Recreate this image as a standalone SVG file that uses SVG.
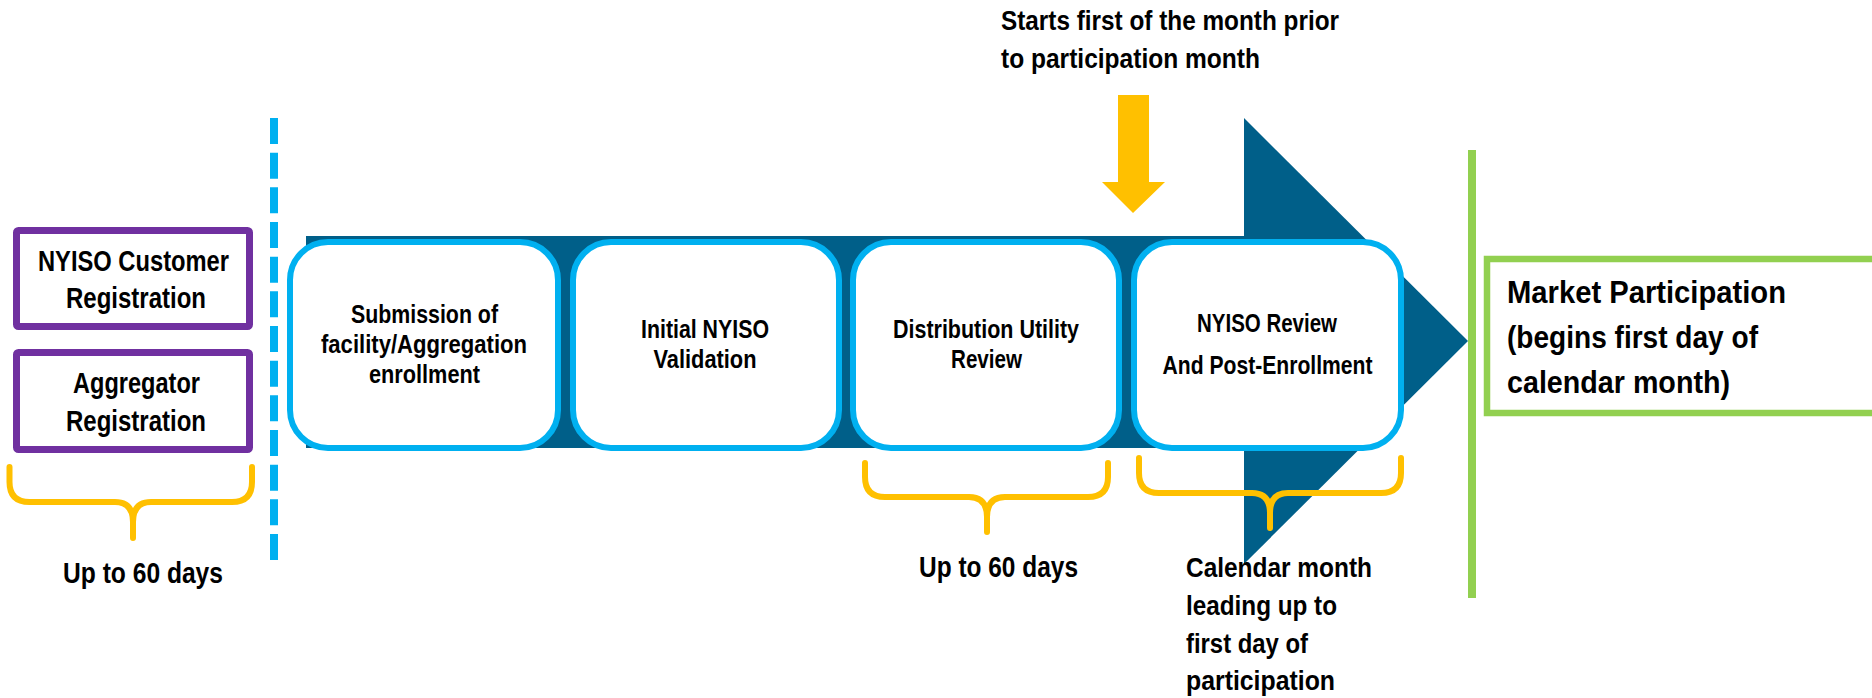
<svg xmlns="http://www.w3.org/2000/svg" width="1872" height="698" viewBox="0 0 1872 698">
<style>
  text { font-family: "Liberation Sans", Arial, sans-serif; font-weight: bold; fill: #000; }
  .t30 { font-size: 29px; }
  .t25 { font-size: 25px; }
  .t28 { font-size: 28px; }
  .t32 { font-size: 32px; }
  .purple { fill: #fff; stroke: #7030A0; stroke-width: 7; }
  .step { fill: #fff; stroke: #00B0F0; stroke-width: 6; }
  .brace { fill: none; stroke: #FFC000; stroke-width: 6; stroke-linecap: round; stroke-linejoin: round; }
  .green { fill: #fff; stroke: #92D050; stroke-width: 6.5; }
</style>
<rect x="0" y="0" width="1872" height="698" fill="#fff"/>

<g id="timeline-arrow">
  <rect x="306" y="236" width="940" height="212" fill="#005F89"/>
  <polygon points="1244,118 1468,341 1244,564" fill="#005F89"/>
</g>

<g id="divider">
  <line x1="274" y1="118" x2="274" y2="560" stroke="#00B0F0" stroke-width="8" stroke-dasharray="26 8.67"/>
</g>

<g id="customer-registration">
  <rect class="purple" x="16.5" y="230.5" width="233" height="96" rx="2"/>
  <text class="t30" x="38" y="271" textLength="191" lengthAdjust="spacingAndGlyphs">NYISO Customer</text>
  <text class="t30" x="66" y="308" textLength="140" lengthAdjust="spacingAndGlyphs">Registration</text>
</g>

<g id="aggregator-registration">
  <rect class="purple" x="16.5" y="352.5" width="233" height="97" rx="2"/>
  <text class="t30" x="73" y="393" textLength="127" lengthAdjust="spacingAndGlyphs">Aggregator</text>
  <text class="t30" x="66" y="431" textLength="140" lengthAdjust="spacingAndGlyphs">Registration</text>
</g>

<g id="label-left-60">
  <text class="t30" x="63" y="583" textLength="160" lengthAdjust="spacingAndGlyphs">Up to 60 days</text>
</g>

<g id="step-submission">
  <rect class="step" x="290" y="242" width="268" height="206" rx="38"/>
  <text class="t25" x="351" y="323" textLength="147" lengthAdjust="spacingAndGlyphs">Submission of</text>
  <text class="t25" x="321" y="353" textLength="206" lengthAdjust="spacingAndGlyphs">facility/Aggregation</text>
  <text class="t25" x="369" y="383" textLength="111" lengthAdjust="spacingAndGlyphs">enrollment</text>
</g>

<g id="step-initial-validation">
  <rect class="step" x="573" y="242" width="266" height="206" rx="38"/>
  <text class="t25" x="641" y="338" textLength="128" lengthAdjust="spacingAndGlyphs">Initial NYISO</text>
  <text class="t25" x="653.5" y="368" textLength="103" lengthAdjust="spacingAndGlyphs">Validation</text>
</g>

<g id="step-utility-review">
  <rect class="step" x="853" y="242" width="266" height="206" rx="38"/>
  <text class="t25" x="893" y="338" textLength="186" lengthAdjust="spacingAndGlyphs">Distribution Utility</text>
  <text class="t25" x="951" y="368" textLength="71" lengthAdjust="spacingAndGlyphs">Review</text>
</g>

<g id="step-nyiso-review">
  <rect class="step" x="1134" y="242" width="267" height="206" rx="38"/>
  <text class="t25" x="1197" y="332" textLength="140" lengthAdjust="spacingAndGlyphs">NYISO Review</text>
  <text class="t25" x="1162.5" y="374" textLength="210" lengthAdjust="spacingAndGlyphs">And Post-Enrollment</text>
</g>

<g id="label-starts">
  <text class="t28" x="1001" y="30" textLength="338" lengthAdjust="spacingAndGlyphs">Starts first of the month prior</text>
  <text class="t28" x="1001" y="68" textLength="259" lengthAdjust="spacingAndGlyphs">to participation month</text>
</g>

<g id="label-mid-60">
  <text class="t30" x="919" y="577" textLength="159" lengthAdjust="spacingAndGlyphs">Up to 60 days</text>
</g>

<g id="label-calendar">
  <text class="t28" x="1186" y="577" textLength="186" lengthAdjust="spacingAndGlyphs">Calendar month</text>
  <text class="t28" x="1186" y="615" textLength="151" lengthAdjust="spacingAndGlyphs">leading up to</text>
  <text class="t28" x="1186" y="653" textLength="122" lengthAdjust="spacingAndGlyphs">first day of</text>
  <text class="t28" x="1186" y="690" textLength="149" lengthAdjust="spacingAndGlyphs">participation</text>
</g>

<g id="market-line">
  <rect x="1468" y="150" width="8" height="448" fill="#92D050"/>
</g>

<g id="market-participation">
  <rect class="green" x="1487" y="259" width="420" height="154"/>
  <text class="t32" x="1507" y="303" textLength="279" lengthAdjust="spacingAndGlyphs">Market Participation</text>
  <text class="t32" x="1507" y="348" textLength="251" lengthAdjust="spacingAndGlyphs">(begins first day of</text>
  <text class="t32" x="1507" y="393" textLength="223" lengthAdjust="spacingAndGlyphs">calendar month)</text>
</g>

<g id="connectors">
  <polygon points="1118,95 1149,95 1149,182 1165,182 1133,213 1102,182 1118,182" fill="#FFC000"/>
  <path class="brace" d="M9.5,467 V482 Q9.5,502 29.5,502 H115 Q133,502 133,522 V538 V522 Q133,502 151,502 H232 Q252,502 252,482 V467"/>
  <path class="brace" d="M865,463 V477 Q865,497 885,497 H969 Q987,497 987,517 V532 V517 Q987,497 1005,497 H1088 Q1108,497 1108,477 V463"/>
  <path class="brace" d="M1139,458 V473 Q1139,493 1159,493 H1252 Q1270,493 1270,513 V528 V513 Q1270,493 1288,493 H1381 Q1401,493 1401,473 V458"/>
</g>
</svg>
